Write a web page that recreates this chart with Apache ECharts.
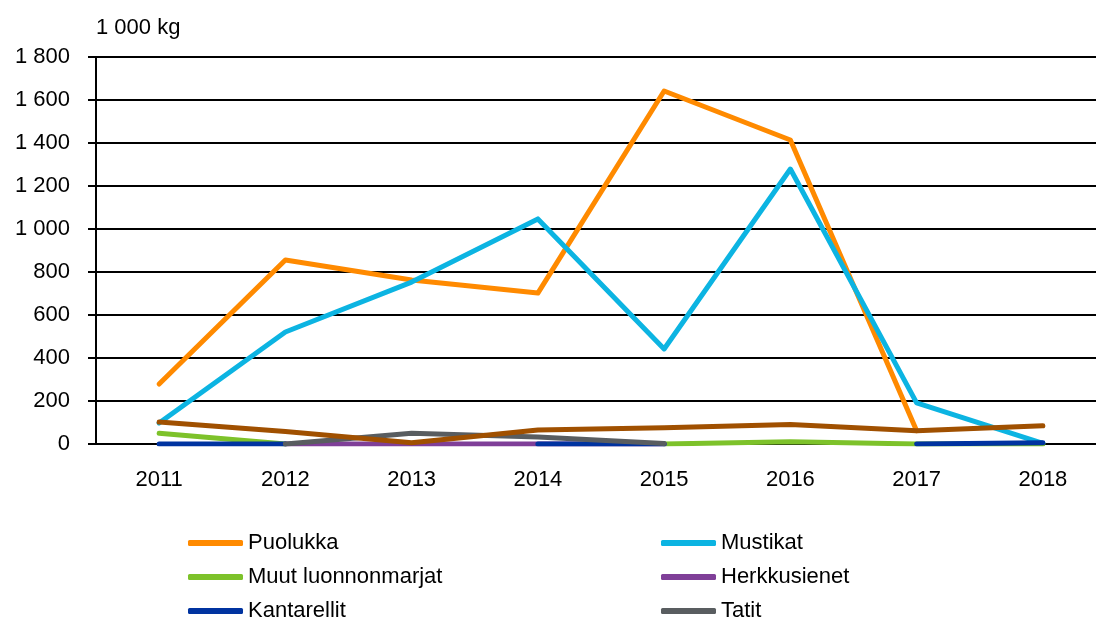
<!DOCTYPE html>
<html lang="fi">
<head>
    <meta charset="UTF-8">
    <title>Marjat ja sienet</title>
    <script src="https://cdn.jsdelivr.net/npm/echarts@6.0.0/dist/echarts.min.js"></script>
    <style>
        html, body { margin: 0; padding: 0; background: #fff; }
        #chart { width: 1096px; height: 619px; }
    </style>
</head>
<body>
<div id="chart"></div>
<script>
    // vuodet
    var years = ["2011", "2012", "2013", "2014", "2015", "2016", "2017", "2018"];

    // sarjat, 1 000 kg
    var puolukka = [279, 856, 763, 702, 1642, 1414, 62, null];
    var mustikat = [98, 521, 753, 1047, 442, 1279, 191, 3];
    var muutMarjat = [50, 0, null, null, 0, 10, 0, 0];
    var herkkusienet = [null, 0, 0, 0, 0, null, null, null];
    var kantarellit = [0, 0, null, 0, 0, null, 0, 6];
    var tatit = [null, 0, 50, 32, 2, null, null, null];
    var muut = [102, 58, 6, 65, 76, 91, 62, 85];

    var yTicks = [0, 200, 400, 600, 800, 1000, 1200, 1400, 1600, 1800];

    var colors = ["#FF8A00", "#0CB4E2", "#7DC22A", "#7F3F98", "#0033A0", "#595D60", "#A05000"];
    var font = "Liberation Sans";

    function fmt(v) {
        return String(v).replace(/\B(?=(\d{3})+(?!\d))/g, " ");
    }

    function line(name, data) {
        return {
            name: name,
            type: "line",
            data: data,
            symbol: "none",
            lineStyle: { width: 5, cap: "round", join: "round" }
        };
    }

    var legendText = { fontFamily: font, fontSize: 22, color: "#000", lineHeight: 24 };

    function legendCol(names, left) {
        return {
            data: names,
            orient: "vertical", left: left, top: 531, height: 100, padding: 0,
            icon: "roundRect", itemWidth: 55, itemHeight: 6, itemGap: 10,
            textStyle: legendText
        };
    }

    var option = {
        color: colors,
        animation: false,
        // plot runs past the right edge of the picture, as in the original
        grid: { left: 96, top: 57, width: 1010, bottom: 175, outerBoundsMode: "none", containLabel: false },
        legend: [
            legendCol(["Puolukka", "Muut luonnonmarjat", "Kantarellit"], 188),
            legendCol(["Mustikat", "Herkkusienet", "Tatit"], 661)
        ],
        xAxis: {
            type: "category",
            data: years,
            boundaryGap: true,
            axisLine: { lineStyle: { color: "#000", width: 2 } },
            axisTick: { length: 8, lineStyle: { color: "#000", width: 2 } },
            axisLabel: { color: "#000", fontFamily: font, fontSize: 22, margin: 25 }
        },
        yAxis: {
            type: "value",
            min: yTicks[0],
            max: yTicks[yTicks.length - 1],
            interval: 200,
            name: "1 000 kg",
            nameLocation: "end",
            nameGap: 18,
            nameTextStyle: { color: "#000", fontFamily: font, fontSize: 22, align: "left" },
            axisLine: { show: true, lineStyle: { color: "#000", width: 2 } },
            axisTick: { show: true, length: 8, lineStyle: { color: "#000", width: 2 } },
            axisLabel: { color: "#000", fontFamily: font, fontSize: 22, margin: 26, formatter: fmt },
            splitLine: { lineStyle: { color: "#000", width: 2 } }
        },
        series: [
            line("Puolukka", puolukka),
            line("Mustikat", mustikat),
            line("Muut luonnonmarjat", muutMarjat),
            line("Herkkusienet", herkkusienet),
            line("Kantarellit", kantarellit),
            line("Tatit", tatit),
            line("Muut sienet", muut)
        ]
    };

    var chart = echarts.init(document.getElementById("chart"));
    chart.setOption(option);
</script>
</body>
</html>
